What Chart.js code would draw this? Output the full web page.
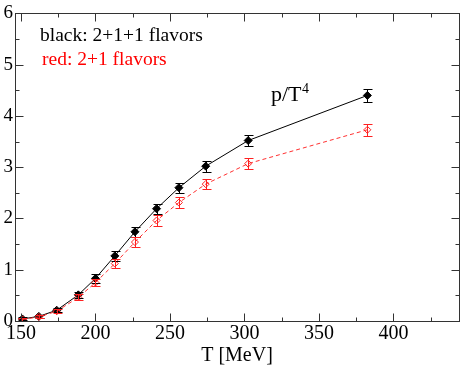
<!DOCTYPE html>
<html><head><meta charset="utf-8">
<script src="https://cdn.jsdelivr.net/npm/chart.js@4/dist/chart.umd.min.js"></script>
<style>html,body{margin:0;padding:0;background:#fff}#w{width:464px;height:366px}</style>
</head><body><div id="w"><canvas id="c" width="464" height="366"></canvas></div>
<script>
const temps = [151, 162, 174, 188.5, 200, 213, 226.5, 241, 256, 274, 302.5, 382.5];
const black = [0.04, 0.09, 0.21, 0.51, 0.83, 1.27, 1.74, 2.19, 2.60, 3.02, 3.52, 4.40];
const blackErr = [0.03, 0.03, 0.04, 0.06, 0.08, 0.09, 0.10, 0.10, 0.10, 0.11, 0.11, 0.13];
const red = [0.03, 0.08, 0.19, 0.46, 0.75, 1.12, 1.54, 1.96, 2.31, 2.67, 3.07, 3.73];
const redErr = [0.03, 0.03, 0.04, 0.06, 0.07, 0.08, 0.09, 0.10, 0.10, 0.10, 0.10, 0.12];
const xMajor = [150, 200, 250, 300, 350, 400];
const xMinor = [175, 225, 275, 325, 375, 425];
const yMajor = [0, 1, 2, 3, 4, 5, 6];
const yMinor = [0.5, 1.5, 2.5, 3.5, 4.5, 5.5];

const FONT = "'Liberation Serif'";
const mk = (xs, ys) => xs.map((x, i) => ({x: x, y: ys[i]}));

const overlay = {
  id: 'overlay',
  afterDatasetsDraw(chart) {
    const {ctx, chartArea: a, scales: {x, y}} = chart;
    ctx.save();
    const bars = [[black, blackErr, '#000'], [red, redErr, '#ff2020']];
    bars.forEach(([vals, errs, col]) => {
      ctx.strokeStyle = col; ctx.lineWidth = 1;
      temps.forEach((t, i) => {
        const px = Math.round(x.getPixelForValue(t)) + 0.5;
        const y1 = Math.round(y.getPixelForValue(vals[i] + errs[i])) + 0.5;
        const y2 = Math.round(y.getPixelForValue(vals[i] - errs[i])) + 0.5;
        ctx.beginPath();
        ctx.moveTo(px, y1); ctx.lineTo(px, y2);
        ctx.moveTo(px - 4, y1); ctx.lineTo(px + 5, y1);
        ctx.moveTo(px - 4, y2); ctx.lineTo(px + 5, y2);
        ctx.stroke();
      });
    });
    ctx.strokeStyle = '#333'; ctx.lineWidth = 1;
    const L = Math.round(a.left) + 0.5, R = Math.round(a.right) + 0.5;
    const T = Math.round(a.top) + 0.5, B = Math.round(a.bottom) + 0.5;
    ctx.strokeRect(L, T, R - L, B - T);
    ctx.beginPath();
    const xt = (v, len) => {
      const px = Math.round(x.getPixelForValue(v)) + 0.5;
      ctx.moveTo(px, B); ctx.lineTo(px, B - len);
      ctx.moveTo(px, T); ctx.lineTo(px, T + len);
    };
    const yt = (v, len) => {
      const py = Math.round(y.getPixelForValue(v)) + 0.5;
      ctx.moveTo(L, py); ctx.lineTo(L + len, py);
      ctx.moveTo(R, py); ctx.lineTo(R - len, py);
    };
    xMajor.forEach(v => xt(v, 8)); xMinor.forEach(v => xt(v, 4));
    yMajor.forEach(v => yt(v, 8)); yMinor.forEach(v => yt(v, 4));
    ctx.stroke();
    ctx.font = '19.5px ' + FONT;
    ctx.textBaseline = 'alphabetic'; ctx.textAlign = 'left';
    ctx.fillStyle = '#000';
    ctx.fillText('black: 2+1+1 flavors', 40, 41);
    ctx.fillStyle = '#ff0000';
    ctx.fillText('red: 2+1 flavors', 42, 65);
    ctx.fillStyle = '#000';
    ctx.font = '22px ' + FONT;
    ctx.fillText('p/T', 271, 101);
    const w = ctx.measureText('p/T').width;
    ctx.font = '14px ' + FONT;
    ctx.fillText('4', 271 + w + 0.5, 93);
    ctx.restore();
  }
};

new Chart(document.getElementById('c'), {
  type: 'scatter',
  data: {
    datasets: [
      {
        data: mk(temps, red), showLine: true, borderColor: '#ff3030', borderWidth: 1,
        borderDash: [4, 3], pointStyle: 'rectRot', pointRadius: 3.5,
        pointBackgroundColor: 'rgba(255,255,255,0)', pointBorderColor: '#ff2020', pointBorderWidth: 1
      },
      {
        data: mk(temps, black), showLine: true, borderColor: '#000', borderWidth: 1,
        pointStyle: 'rectRot', pointRadius: 4,
        pointBackgroundColor: '#000', pointBorderColor: '#000', pointBorderWidth: 1
      }
    ]
  },
  options: {
    responsive: false, animation: false,
    layout: {padding: {top: 11, right: 3, left: 0, bottom: 0}},
    plugins: {legend: {display: false}, tooltip: {enabled: false}},
    scales: {
      x: {
        type: 'linear', min: 146, max: 444,
        afterFit: s => { s.height = 45; },
        afterBuildTicks: s => { s.ticks = xMajor.map(v => ({value: v})); },
        grid: {display: false, drawTicks: false},
        border: {display: false},
        ticks: {color: '#000', font: {family: FONT, size: 20}, padding: 1, maxRotation: 0, autoSkip: false},
        title: {display: true, text: 'T [MeV]', color: '#000', font: {family: FONT, size: 20}, padding: {top: 0, bottom: -2}}
      },
      y: {
        min: 0, max: 6,
        afterFit: s => { s.width = 15; },
        afterBuildTicks: s => { s.ticks = yMajor.map(v => ({value: v})); },
        grid: {display: false, drawTicks: false},
        border: {display: false},
        ticks: {color: '#000', font: {family: FONT, size: 19}, padding: 2, autoSkip: false}
      }
    }
  },
  plugins: [overlay]
});
</script></body></html>
